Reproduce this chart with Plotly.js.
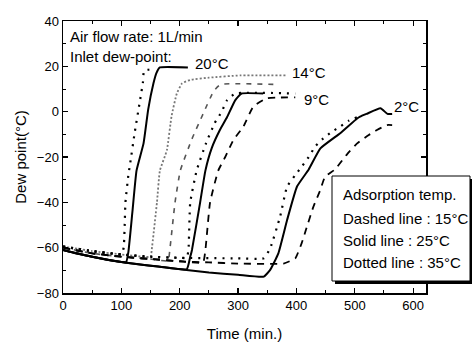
<!DOCTYPE html>
<html>
<head>
<meta charset="utf-8">
<script src="https://cdn.plot.ly/plotly-3.0.1.min.js"></script>
<style>
html,body{margin:0;padding:0;background:#fff;}
#chart{width:472px;height:342px;}
</style>
</head>
<body>
<div id="chart"></div>
<script>
// ---- Data (time in min, dew point in °C) ----
// Inlet dew-point 20°C
var t_dot20 = [0, 25, 50, 75, 100, 104, 107, 112, 115, 123, 132, 137, 139, 158];
var dp_dot20 = [-59.5, -60.5, -61.5, -62.3, -63, -60, -40, -28, -23, -9, 5, 13, 18, 19];
var t_sol20 = [0, 25, 50, 75, 100, 108, 112, 119, 126, 138, 146, 155, 160, 166, 214];
var dp_sol20 = [-61, -62.7, -64, -65.3, -66.3, -66.5, -62, -44, -26, -14, 1, 12.5, 17, 19.5, 19.5];
// Inlet dew-point 14°C
var t_dot14 = [0, 50, 100, 150, 152, 161, 166, 178, 186, 195, 204, 218, 250, 304, 384];
var dp_dot14 = [-59.5, -61.5, -63, -64, -61, -40, -26, -17, -2, 8, 12.5, 14, 15, 16, 16];
var t_das14 = [0, 50, 100, 150, 180, 183, 192, 201, 221, 240, 258, 270, 367];
var dp_das14 = [-60, -62.5, -64, -65, -65.8, -61, -40, -26, -12, -1, 9, 12, 12];
// Inlet dew-point 9°C
var t_dot9 = [0, 50, 100, 150, 200, 212, 215, 218, 229, 245, 260, 272, 281, 295, 398];
var dp_dot9 = [-59.5, -61.5, -63, -64, -64.5, -64.5, -61, -40, -26, -14, -5, 0, 5, 8, 8];
var t_sol9 = [0, 50, 100, 166, 212, 218, 221, 235, 244, 255, 269, 281, 295, 306, 343];
var dp_sol9 = [-61, -64, -66.3, -68.4, -69.5, -64, -61, -40, -26, -16, -8, -2.5, 5, 8, 8];
var t_das9 = [0, 50, 100, 150, 200, 240, 244, 252, 266, 278, 292, 309, 326, 349, 398];
var dp_das9 = [-60, -62.5, -64, -65, -66, -66.5, -61, -40, -26, -20, -12.5, -6.6, 2.2, 5.9, 6.3];
// Inlet dew-point 2°C
var t_sol2 = [0, 50, 100, 166, 250, 300, 344, 355, 369, 384, 401, 421, 441, 475, 504, 509, 520, 544, 556, 564];
var dp_sol2 = [-61, -64, -66.3, -68.4, -71, -72, -72.8, -69.8, -62.5, -47.8, -33, -25.5, -16.2, -9.5, -3, -2.2, -1, 1.5, -1, -1];
var t_dot2 = [0, 50, 100, 150, 200, 300, 344, 355, 372, 384, 398, 409, 421, 432, 446, 461, 475, 489, 506];
var dp_dot2 = [-59.5, -61.5, -63, -64, -64.5, -64.7, -64.7, -60.3, -46.3, -33, -28, -24.3, -20, -15.4, -11.8, -8.8, -6.6, -4.1, -2.2];
var t_das2 = [0, 50, 100, 150, 200, 250, 300, 378, 398, 409, 418, 429, 441, 449, 466, 487, 504, 524, 538, 555, 564];
var dp_das2 = [-60, -62.5, -64, -65, -66, -66.5, -67, -67, -64.7, -58, -50.7, -42, -34.5, -28.7, -25.5, -18.7, -14, -10.3, -8.1, -5.9, -5.9];

var inletLabels = ["20°C", "14°C", "9°C", "2°C"];
var legendLines = ["Adsorption temp.", "Dashed line : 15°C", "Solid line : 25°C", "Dotted line : 35°C"];

// ---- Styles ----
var STY = {
  solid:  {color: '#000', width: 2, dash: 'solid'},
  dashed: {color: '#000', width: 1.8, dash: '7px,6px'},
  dotted: {color: '#000', width: 2.2, dash: '2px,6px'},
  grayDot:{color: '#777', width: 1.8, dash: '2px,2px'},
  grayDash:{color: '#555', width: 1.6, dash: '5px,6px'}
};

var series = [
  [t_dot20, dp_dot20, 'dotted'],
  [t_sol20, dp_sol20, 'solid'],
  [t_dot14, dp_dot14, 'grayDot'],
  [t_das14, dp_das14, 'grayDash'],
  [t_dot9, dp_dot9, 'dotted'],
  [t_sol9, dp_sol9, 'solid'],
  [t_das9, dp_das9, 'dashed'],
  [t_sol2, dp_sol2, 'solid'],
  [t_dot2, dp_dot2, 'dotted'],
  [t_das2, dp_das2, 'dashed']
];

var traces = series.map(function(s){
  return {x: s[0], y: s[1], type: 'scatter', mode: 'lines',
          line: Object.assign({shape: 'spline', smoothing: 0.4}, STY[s[2]]),
          hoverinfo: 'skip', showlegend: false};
});

var FONT = 'Arial, "Liberation Sans", sans-serif';
var L = 63, R = 426, T = 21, B = 293;
function px(x){ return (x - L) / (R - L); }
function py(y){ return (B - y) / (B - T); }

var annotations = [
  {text: 'Air flow rate: 1L/min', x: px(68), y: py(36), xanchor: 'left'},
  {text: 'Inlet dew-point:', x: px(68), y: py(57), xanchor: 'left'},
  {text: inletLabels[0], x: px(193), y: py(63), xanchor: 'left'},
  {text: inletLabels[1], x: px(290), y: py(72), xanchor: 'left'},
  {text: inletLabels[2], x: px(302), y: py(100), xanchor: 'left'},
  {text: inletLabels[3], x: px(392), y: py(106), xanchor: 'left'},
  {text: legendLines[0], x: px(341), y: py(194), xanchor: 'left'},
  {text: legendLines[1], x: px(341), y: py(218), xanchor: 'left'},
  {text: legendLines[2], x: px(341), y: py(240), xanchor: 'left'},
  {text: legendLines[3], x: px(341), y: py(262), xanchor: 'left'}
].map(function(a){
  return Object.assign({xref: 'paper', yref: 'paper', yanchor: 'middle', showarrow: false,
                        font: {family: FONT, size: 15, color: '#000'}}, a);
});

var shapes = [
  {type: 'rect', xref: 'paper', yref: 'paper', x0: px(335), x1: px(475), y0: py(284), y1: py(179),
   fillcolor: '#000', line: {width: 0}, layer: 'above'},
  {type: 'rect', xref: 'paper', yref: 'paper', x0: px(332), x1: px(470), y0: py(281), y1: py(176),
   fillcolor: '#fff', line: {color: '#000', width: 1}, layer: 'above'}
];

var layout = {
  width: 472, height: 342,
  margin: {l: 63, r: 46, t: 21, b: 49, pad: 0},
  paper_bgcolor: '#fff', plot_bgcolor: '#fff',
  font: {family: FONT, color: '#000'},
  xaxis: {
    range: [0, 622], tick0: 0, dtick: 100, ticks: 'inside', ticklen: 5, tickwidth: 1.2, tickcolor: '#000',
    showline: true, linewidth: 1.5, linecolor: '#000', mirror: 'allticks',
    minor: {dtick: 50, ticks: 'inside', ticklen: 3, tickwidth: 1, tickcolor: '#000'},
    showgrid: false, zeroline: false, tickfont: {size: 13, family: FONT},
    title: {text: 'Time (min.)', font: {size: 15, family: FONT}, standoff: 17},
    automargin: false
  },
  yaxis: {
    range: [-80, 40], tick0: -80, dtick: 20, ticks: 'inside', ticklen: 5, tickwidth: 1.2, tickcolor: '#000',
    showline: true, linewidth: 1.5, linecolor: '#000', mirror: 'allticks',
    minor: {dtick: 10, ticks: 'inside', ticklen: 3, tickwidth: 1, tickcolor: '#000'},
    showgrid: false, zeroline: false, tickfont: {size: 13, family: FONT},
    title: {text: 'Dew point(°C)', font: {size: 15, family: FONT}, standoff: 6},
    automargin: false
  },
  annotations: annotations,
  shapes: shapes
};

Plotly.newPlot('chart', traces, layout, {staticPlot: true, displayModeBar: false});
</script>
</body>
</html>
